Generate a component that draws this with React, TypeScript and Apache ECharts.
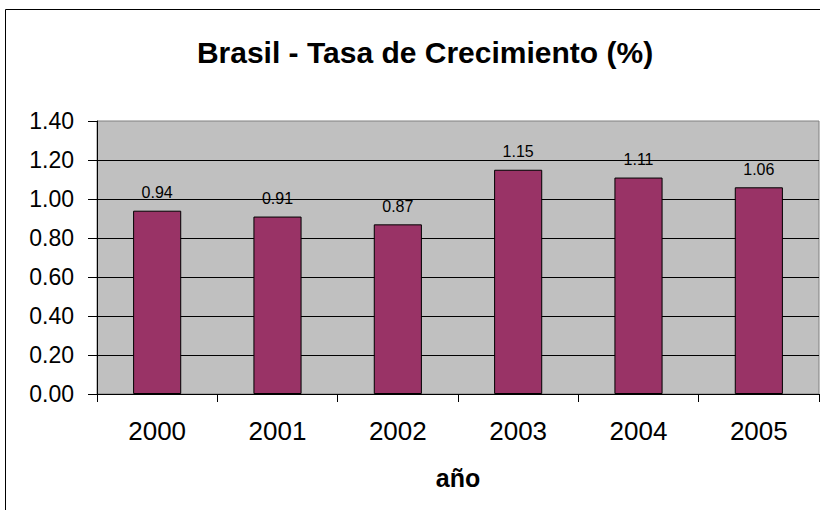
import React, { useEffect, useRef } from "react";
import * as echarts from "echarts";

const categories = ["2000", "2001", "2002", "2003", "2004", "2005"];
const growth = [0.94, 0.91, 0.87, 1.15, 1.11, 1.06];
const titleText = "Brasil - Tasa de Crecimiento (%)";
const xName = "año";

export default function App() {
  const ref = useRef<HTMLDivElement>(null);
  useEffect(() => {
    if (!ref.current) return;
    const chart = echarts.init(ref.current, null, { renderer: "svg" });
    chart.setOption({
      animation: false,
      backgroundColor: "#ffffff",
      title: {
        text: titleText,
        left: 420,
        top: 32,
        textAlign: "center",
        textStyle: { fontFamily: "Liberation Sans, Arial", fontWeight: "bold", fontSize: 30, color: "#000" },
      },
      graphic: [
        {
          type: "rect",
          shape: { x: 5.5, y: 9.5, width: 900, height: 600 },
          style: { fill: "none", stroke: "#000", lineWidth: 1 },
          silent: true,
          z: 100,
        },
      ],
      grid: {
        left: 97,
        top: 121,
        right: 1,
        bottom: 116,
        show: true,
        backgroundColor: "#C0C0C0",
        borderColor: "#808080",
        borderWidth: 1,
      },
      xAxis: {
        type: "category",
        data: categories,
        boundaryGap: true,
        name: xName,
        nameLocation: "middle",
        nameGap: 71,
        nameTextStyle: { fontFamily: "Liberation Sans, Arial", fontWeight: "bold", fontSize: 25, color: "#000" },
        axisLine: { show: true, lineStyle: { color: "#000", width: 1 } },
        axisTick: { show: true, length: 8, alignWithLabel: false, lineStyle: { color: "#000" } },
        axisLabel: { fontFamily: "Liberation Sans, Arial", fontSize: 26, color: "#000", margin: 24 },
        splitLine: { show: false },
      },
      yAxis: {
        type: "value",
        min: 0,
        max: 1.4,
        interval: 0.2,
        axisLine: { show: true, lineStyle: { color: "#000", width: 1 } },
        axisTick: { show: true, length: 9, lineStyle: { color: "#000" } },
        axisLabel: {
          fontFamily: "Liberation Sans, Arial",
          fontSize: 23,
          color: "#000",
          margin: 23,
          formatter: (v: number) => v.toFixed(2),
        },
        splitLine: { show: true, showMaxLine: false, lineStyle: { color: "#000", width: 1 } },
      },
      series: [
        {
          type: "bar",
          data: growth,
          barWidth: "40%",
          itemStyle: { color: "#993366", borderColor: "#000", borderWidth: 1 },
          label: {
            show: true,
            position: "top",
            distance: 10,
            fontFamily: "Liberation Sans, Arial",
            fontSize: 16,
            color: "#000",
            formatter: (p: any) => Number(p.value).toFixed(2),
          },
        },
      ],
    });
    return () => chart.dispose();
  }, []);
  return (
    <div
      ref={ref}
      style={{ position: "fixed", left: 0, top: 0, width: 820, height: 510 }}
    />
  );
}
